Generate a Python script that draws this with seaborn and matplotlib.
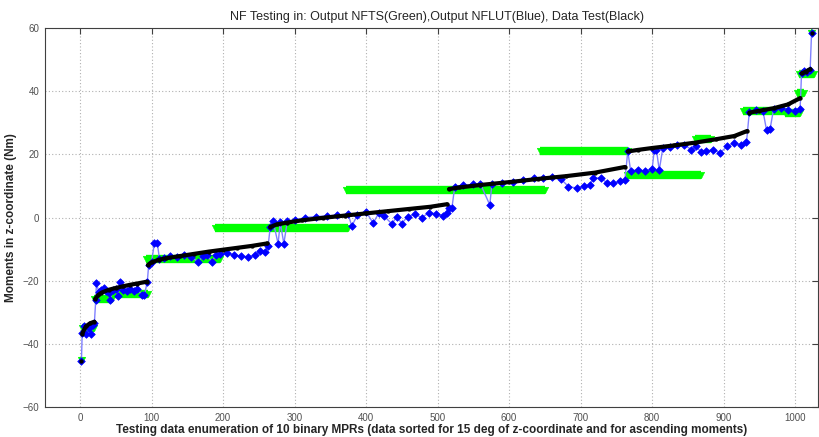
import numpy as np
import pandas as pd
import matplotlib
matplotlib.use("Agg")
import matplotlib.pyplot as plt
import seaborn as sns

# ---------------- data ----------------
# Data Test (black): sorted moments, one group per binary MPR
black_grp = [1,
             2, 2, 2, 2,
             3, 3, 3, 3, 3, 3, 3, 3, 3,
             4, 4, 4, 4, 4, 4, 4, 4, 4, 4, 4,
             5, 5, 5, 5, 5, 5, 5, 5, 5, 5, 5,
             6, 6, 6, 6, 6, 6, 6, 6,
             7, 7, 7, 7, 7, 7, 7, 7,
             8, 8, 8, 8, 8,
             9, 9, 9,
             10]
black_x = [2,
           3, 8, 14, 20,
           21, 25, 30, 40, 50, 60, 70, 80, 94,
           95, 100, 110, 120, 140, 160, 180, 200, 220, 240, 262,
           266, 275, 290, 310, 340, 370, 400, 430, 460, 490, 513,
           516, 530, 560, 600, 640, 680, 720, 762,
           766, 780, 800, 830, 860, 890, 915, 933,
           936, 950, 970, 990, 1007,
           1009, 1015, 1021,
           1023]
black_y = [-45.3,
           -36.8, -34.5, -33.5, -33.0,
           -25.8, -24.6, -23.8, -22.9, -22.3, -21.8, -21.3, -20.9, -20.3,
           -15.0, -14.2, -13.4, -12.9, -12.2, -11.5, -10.8, -10.2, -9.6, -9.0, -8.2,
           -3.0, -2.2, -1.6, -0.9, -0.1, 0.6, 1.3, 2.0, 2.7, 3.4, 4.2,
           9.0, 9.5, 10.3, 11.2, 12.2, 13.1, 14.2, 16.0,
           20.9, 21.4, 22.0, 22.8, 23.7, 24.8, 25.8, 27.4,
           33.2, 33.8, 34.6, 35.8, 37.8,
           45.6, 46.2, 47.0,
           58.5]

# Output NFLUT (blue)
blue_x = [2, 3, 6, 9, 12, 15, 18, 20, 22, 23, 26, 30, 33, 36, 40, 42, 46, 50, 53, 56,
          60, 65, 70, 75, 80, 86, 90, 94, 96, 100, 104, 108, 111, 118, 126, 135, 145,
          155, 165, 172, 178, 184, 190, 196, 205, 215, 225, 235, 245, 252, 258, 263,
          266, 270, 277, 280, 285, 290, 300, 315, 330, 345, 360, 375, 380, 388, 400,
          410, 418, 425, 436, 443, 450, 458, 468, 478, 488, 498, 508, 513, 516, 520,
          524, 535, 550, 560, 573, 576, 590, 605, 620, 635, 648, 660, 672, 683, 695,
          705, 713, 718, 728, 737, 746, 755, 762, 766, 770, 780, 790, 800, 803, 806,
          810, 815, 825, 835, 845, 855, 862, 868, 875, 885, 895, 905, 915, 925, 932,
          936, 945, 955, 960, 965, 970, 980, 990, 1000, 1007, 1009, 1013, 1017, 1021,
          1023]
blue_y = [-45.3, -36.5, -34.5, -37.0, -35.0, -36.8, -34.0, -33.5, -26.0, -20.6, -23.5,
          -22.8, -22.3, -23.3, -24.0, -26.1, -23.0, -22.5, -25.0, -20.4,
          -22.8, -23.2, -22.7, -23.3, -22.5, -24.5, -24.5, -20.5, -15.0, -14.0, -8.2,
          -8.0, -13.0, -12.7, -12.3, -12.6, -12.0,
          -12.4, -14.0, -12.3, -11.8, -14.0, -12.0, -11.5, -11.3, -11.8, -12.3, -12.4,
          -12.0, -10.5, -11.0, -9.0,
          -3.0, -1.2, -8.3, -1.5, -8.3, -1.0, -0.8, 0.0, 0.3, 0.5, 0.8, 1.0, -2.7, 0.8,
          1.8, -1.8, 1.5, 0.5, -2.0, 0.2, -1.9, 0.3, 1.0, 0.0, 1.5, 1.2, 0.6, 1.5, 3.0,
          2.9, 9.8, 10.2, 10.5, 10.6, 4.0, 10.6, 11.0, 11.2, 11.8, 12.4, 12.5, 12.8,
          12.3, 9.8, 9.3, 10.0, 10.3, 12.5, 12.5, 11.0, 10.8, 11.5, 11.9, 21.0, 14.8,
          15.0, 14.8, 15.2, 21.3, 21.5, 15.0, 22.0, 22.3, 22.8, 23.0, 21.5, 22.5, 20.8,
          21.0, 21.5, 20.5, 22.5, 23.5, 23.0, 23.8, 33.5, 34.0, 33.8, 27.7, 28.0, 34.5,
          34.8, 34.0, 33.8, 34.5, 45.8, 46.5, 46.2, 46.8, 58.5]

# Output NFTS (green): constant output levels over index ranges
green_start = [1, 3, 20, 45, 92, 189, 372, 643, 765, 860, 927, 986, 1003, 1006, 1022]
green_end = [3, 20, 45, 95, 196, 375, 650, 766, 868, 882, 985, 1007, 1013, 1026, 1024]
green_level = [-45.0, -35.0, -25.8, -24.2, -13.0, -3.3, 8.8, 21.0, 13.4, 25.0, 33.6,
               33.0, 39.5, 45.5, 58.5]

title = "NF Testing in: Output NFTS(Green),Output NFLUT(Blue), Data Test(Black)"
xlabel = ("Testing data enumeration of 10 binary MPRs (data sorted for 15 deg of "
          "z-coordinate and for ascending moments)")
ylabel = "Moments in z-coordinate (Nm)"
xticks = [0, 100, 200, 300, 400, 500, 600, 700, 800, 900, 1000]
yticks = [-60, -40, -20, 0, 20, 40, 60]

# ---------------- frames ----------------
df_black = pd.DataFrame({"x": black_x, "y": black_y, "g": black_grp})
df_blue = pd.DataFrame({"x": blue_x, "y": blue_y})
gx, gy, gg = [], [], []
for k, (s, e, lv) in enumerate(zip(green_start, green_end, green_level)):
    gx += [s, e]
    gy += [lv, lv]
    gg += [k, k]
df_green = pd.DataFrame({"x": gx, "y": gy, "g": gg})

# ---------------- plot ----------------
sns.set_style("white")
plt.rcParams["font.family"] = ["Liberation Sans", "DejaVu Sans"]

fig = plt.figure(figsize=(8.19, 4.37), dpi=100)
ax = fig.add_axes([45 / 819, 1 - 407 / 437, 773 / 819, (407 - 28) / 437])

# green NFTS output (thick marker bands)
sns.lineplot(data=df_green, x="x", y="y", units="g", estimator=None, sort=False,
             color="#00ff00", lw=6.0, solid_capstyle="butt", ax=ax, legend=False,
             zorder=2)
sns.scatterplot(data=df_green, x="x", y="y", marker="v", s=22, color="#00ff00",
                edgecolor="#00ff00", ax=ax, legend=False, zorder=2)

# blue NFLUT output: thin light line + markers
sns.lineplot(data=df_blue, x="x", y="y", estimator=None, sort=False,
             color="#8080ff", lw=1.0, ax=ax, legend=False, zorder=3)
sns.scatterplot(data=df_blue, x="x", y="y", marker="D", s=15, color="#0000ff",
                edgecolor="#0000ff", linewidth=0.5, ax=ax, legend=False, zorder=4)

# black data test
sns.lineplot(data=df_black, x="x", y="y", units="g", estimator=None, sort=False,
             color="black", lw=3.0, ax=ax, legend=False, zorder=5)
sns.scatterplot(data=df_black, x="x", y="y", marker="o", s=8, color="black",
                edgecolor="black", ax=ax, legend=False, zorder=5)

ax.set_xlim(-49, 1032)
ax.set_ylim(-60, 60)
ax.set_xticks(xticks)
ax.set_yticks(yticks)
ax.grid(True, color="#b0b0b0", linestyle=(0, (1, 2)), lw=0.8)
ax.tick_params(axis="both", direction="in", length=4, width=0.8, color="#404040",
               labelsize=7, labelcolor="#505050", top=True, right=True, pad=4)
for sp in ax.spines.values():
    sp.set_color("#404040")
    sp.set_linewidth(0.8)

ax.set_title(title, fontsize=9, pad=6, x=0.507)
ax.set_xlabel(xlabel, fontsize=8.5, fontweight="bold", labelpad=1)
ax.set_ylabel(ylabel, fontsize=8.5, fontweight="bold", labelpad=4)

fig.savefig("out.png", dpi=100)
